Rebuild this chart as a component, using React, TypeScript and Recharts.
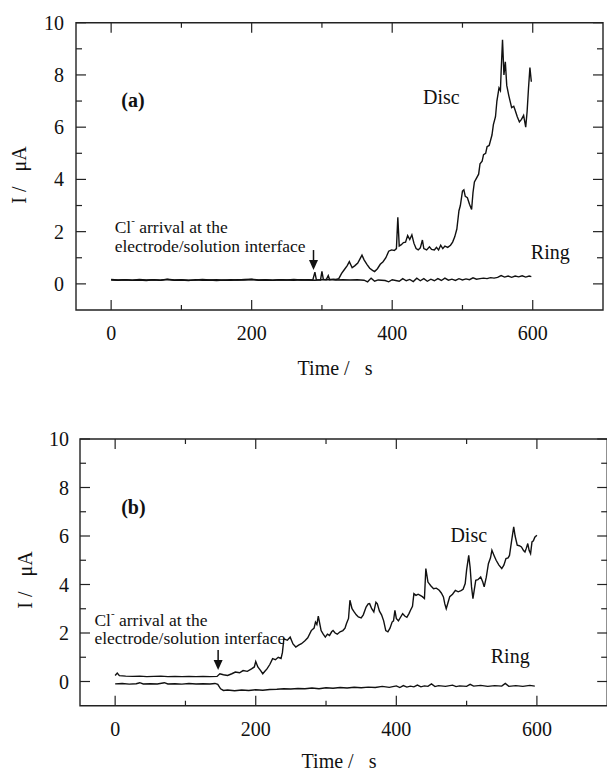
import React from "react";
import { LineChart, Line, XAxis, YAxis, ReferenceArea, ReferenceDot } from "recharts";

const xTicks = [0, 100, 200, 300, 400, 500, 600];
const yTicks = [0, 1, 2, 3, 4, 5, 6, 7, 8, 9, 10];
const xDomain: [number, number] = [-50, 700];
const yDomain: [number, number] = [-1, 10];

// (a) disc current, [time s, current µA]
const discA: [number, number][] = [
  [0, 0.17], [10, 0.15], [20, 0.16], [30, 0.14], [40, 0.17], [50, 0.15], [60, 0.16], [70, 0.14],
  [80, 0.18], [90, 0.15], [100, 0.16], [110, 0.14], [120, 0.15], [130, 0.17], [140, 0.15], [150, 0.16],
  [160, 0.14], [170, 0.16], [180, 0.15], [190, 0.17], [200, 0.18], [210, 0.15], [220, 0.16], [230, 0.14],
  [240, 0.16], [250, 0.15], [260, 0.17], [270, 0.15], [280, 0.16], [287, 0.15], [290, 0.45], [292, 0.16],
  [298, 0.15], [300, 0.48], [302, 0.17], [306, 0.16], [309, 0.32], [311, 0.16], [316, 0.18], [320, 0.17],
  [324, 0.2], [328, 0.4], [332, 0.55], [336, 0.7], [339, 0.85], [343, 0.62], [347, 0.7], [351, 0.8],
  [354, 0.95], [357, 1.1], [360, 0.92], [364, 0.75], [368, 0.6], [372, 0.52], [375, 0.47], [379, 0.58],
  [383, 0.75], [387, 0.85], [391, 1.0], [395, 1.25], [399, 1.3], [403, 1.28], [406, 1.35], [408, 2.55],
  [410, 1.45], [413, 1.5], [416, 1.58], [419, 1.6], [422, 1.85], [425, 1.7], [428, 1.88], [431, 1.55],
  [434, 1.35], [437, 1.3], [440, 1.38], [443, 1.68], [445, 1.35], [449, 1.3], [453, 1.42], [456, 1.32],
  [460, 1.3], [463, 1.4], [466, 1.3], [469, 1.48], [472, 1.35], [475, 1.45], [479, 1.4], [483, 1.48],
  [486, 1.6], [489, 1.8], [492, 2.1], [495, 2.8], [497, 3.0], [500, 3.55], [502, 3.6], [504, 3.35],
  [507, 3.3], [510, 3.05], [513, 2.85], [515, 3.5], [517, 3.9], [520, 4.05], [523, 4.2], [525, 4.6],
  [528, 4.7], [530, 4.95], [533, 5.0], [535, 5.25], [538, 5.3], [540, 5.5], [542, 5.7], [544, 6.1],
  [547, 6.4], [549, 7.0], [552, 7.5], [554, 7.4], [555, 8.1], [557, 9.35], [559, 8.0], [561, 8.5],
  [563, 7.6], [566, 7.2], [570, 6.75], [573, 6.8], [575, 6.65], [578, 6.4], [581, 6.2], [584, 6.3],
  [587, 6.45], [590, 6.0], [592, 6.6], [594, 7.5], [596, 8.28], [598, 7.74],
];

// (a) ring current
const ringA: [number, number][] = [
  [0, 0.15], [10, 0.14], [20, 0.16], [30, 0.14], [40, 0.15], [50, 0.13], [60, 0.16], [70, 0.14],
  [80, 0.17], [90, 0.14], [100, 0.15], [110, 0.13], [120, 0.16], [130, 0.14], [140, 0.15], [150, 0.13],
  [160, 0.15], [170, 0.14], [180, 0.16], [190, 0.15], [200, 0.17], [210, 0.14], [220, 0.15], [230, 0.14],
  [240, 0.16], [250, 0.15], [260, 0.14], [270, 0.16], [280, 0.15], [290, 0.14], [300, 0.16], [310, 0.17],
  [320, 0.15], [330, 0.16], [340, 0.15], [350, 0.16], [360, 0.14], [365, 0.08], [370, 0.22], [375, 0.1],
  [380, 0.15], [390, 0.13], [395, 0.08], [400, 0.16], [410, 0.1], [415, 0.2], [420, 0.12], [425, 0.17],
  [430, 0.09], [435, 0.22], [440, 0.12], [445, 0.2], [450, 0.1], [455, 0.18], [460, 0.12], [465, 0.2],
  [470, 0.13], [475, 0.22], [480, 0.14], [485, 0.18], [490, 0.13], [495, 0.2], [500, 0.15], [505, 0.19],
  [510, 0.16], [515, 0.23], [520, 0.18], [525, 0.2], [530, 0.22], [535, 0.2], [540, 0.24], [545, 0.22],
  [550, 0.25], [555, 0.32], [560, 0.26], [565, 0.3], [570, 0.25], [575, 0.3], [580, 0.27], [585, 0.31],
  [590, 0.26], [595, 0.3], [598, 0.28],
];

// (b) disc current
const discB: [number, number][] = [
  [0, 0.25], [3, 0.35], [6, 0.24], [15, 0.22], [25, 0.21], [35, 0.22], [45, 0.2], [55, 0.21],
  [65, 0.22], [75, 0.2], [85, 0.21], [95, 0.2], [105, 0.21], [115, 0.2], [125, 0.21], [135, 0.2],
  [145, 0.21], [149, 0.32], [154, 0.28], [160, 0.25], [166, 0.32], [171, 0.39], [177, 0.36], [182, 0.45],
  [188, 0.42], [194, 0.52], [198, 0.6], [200, 0.82], [203, 0.6], [207, 0.45], [210, 0.32], [213, 0.42],
  [216, 0.52], [220, 0.7], [224, 0.94], [228, 0.9], [232, 1.0], [236, 0.95], [238, 1.2], [240, 1.76],
  [245, 1.7], [249, 1.83], [253, 1.55], [257, 1.42], [261, 1.5], [265, 1.56], [270, 1.68], [274, 1.8],
  [279, 2.1], [283, 2.2], [285, 2.45], [287, 2.35], [289, 2.7], [291, 2.4], [293, 2.1], [296, 1.95],
  [299, 1.83], [302, 1.95], [305, 1.9], [308, 2.05], [310, 2.1], [313, 2.0], [316, 1.95], [320, 2.05],
  [324, 2.1], [327, 2.2], [329, 2.38], [332, 2.6], [334, 3.35], [337, 3.0], [340, 2.87], [343, 2.75],
  [346, 2.66], [350, 2.62], [353, 2.75], [357, 3.07], [360, 3.2], [362, 3.21], [365, 3.0], [368, 2.87],
  [371, 3.27], [373, 3.2], [376, 2.9], [379, 2.75], [382, 2.5], [385, 2.1], [388, 2.05], [391, 2.2],
  [394, 2.45], [396, 2.5], [398, 2.93], [400, 2.6], [403, 2.5], [406, 2.65], [409, 2.8], [412, 2.7],
  [415, 2.65], [418, 2.8], [420, 2.93], [423, 3.1], [425, 3.62], [428, 3.55], [431, 3.6], [434, 3.55],
  [437, 3.5], [440, 3.42], [442, 4.66], [445, 4.1], [449, 3.95], [453, 3.83], [457, 3.85], [461, 3.76],
  [464, 3.65], [467, 3.49], [469, 3.2], [471, 3.0], [474, 3.3], [476, 3.5], [480, 3.6], [484, 3.76],
  [488, 3.7], [492, 3.75], [495, 3.8], [498, 4.04], [500, 4.6], [503, 5.2], [505, 4.7], [507, 3.9],
  [509, 3.42], [511, 3.8], [513, 4.17], [516, 4.2], [520, 4.31], [523, 4.1], [525, 3.9], [528, 4.3],
  [531, 4.86], [534, 5.1], [536, 5.41], [539, 5.2], [542, 5.0], [546, 4.8], [550, 4.66], [553, 4.8],
  [556, 5.07], [559, 5.1], [561, 5.2], [564, 5.8], [567, 6.38], [569, 6.0], [572, 5.62], [575, 5.6],
  [578, 5.55], [581, 5.4], [583, 5.34], [585, 5.5], [587, 5.69], [589, 5.4], [591, 5.27], [593, 5.76],
  [595, 5.8], [597, 5.95], [600, 6.03],
];

// (b) ring current
const ringB: [number, number][] = [
  [0, -0.1], [10, -0.08], [20, -0.11], [30, -0.09], [35, -0.05], [40, -0.1], [50, -0.09], [60, -0.1],
  [70, -0.05], [75, -0.1], [85, -0.09], [95, -0.11], [105, -0.08], [115, -0.1], [125, -0.09], [135, -0.1],
  [142, -0.08], [146, -0.12], [150, -0.3], [154, -0.37], [160, -0.35], [170, -0.38], [180, -0.35], [190, -0.37],
  [200, -0.34], [210, -0.36], [220, -0.33], [230, -0.32], [240, -0.3], [250, -0.31], [260, -0.29], [270, -0.3],
  [280, -0.27], [290, -0.3], [300, -0.26], [310, -0.28], [320, -0.25], [330, -0.27], [340, -0.24], [350, -0.26],
  [360, -0.23], [370, -0.25], [380, -0.2], [390, -0.24], [400, -0.18], [405, -0.25], [410, -0.17], [415, -0.23],
  [420, -0.19], [425, -0.22], [430, -0.15], [435, -0.22], [440, -0.18], [445, -0.2], [450, -0.1], [455, -0.21],
  [460, -0.17], [470, -0.2], [480, -0.15], [485, -0.21], [490, -0.18], [500, -0.2], [505, -0.12], [510, -0.19],
  [520, -0.16], [530, -0.2], [540, -0.17], [550, -0.19], [555, -0.08], [560, -0.2], [570, -0.17], [580, -0.2],
  [590, -0.16], [597, -0.19],
];

const FONT = '"Liberation Serif", "Times New Roman", serif';
const INK = "#111";

type Frame = { top: number; bottom: number; left: number; right: number };
type Note = { t: number; v: number; text: string; anchor?: "start" | "middle"; bold?: boolean; size?: number; sup?: boolean };

const toRows = (pairs: [number, number][]) => pairs.map(([t, v]) => ({ t, v }));

function makeXTick(f: Frame) {
  return (props: any) => {
    const { x, payload } = props;
    const val = payload.value;
    const major = val % 200 === 0;
    const len = major ? 10 : 5;
    return (
      <g>
        <line x1={x} x2={x} y1={f.bottom} y2={f.bottom - len} stroke="#222" strokeWidth={1.2} />
        <line x1={x} x2={x} y1={f.top} y2={f.top + len} stroke="#222" strokeWidth={1.2} />
        {major && (
          <text x={x} y={f.bottom + 23} textAnchor="middle" dominantBaseline="central" fontFamily={FONT} fontSize={20} fill={INK}>
            {val}
          </text>
        )}
      </g>
    );
  };
}

function makeYTick(f: Frame, gap: number) {
  return (props: any) => {
    const { y, payload } = props;
    const val = payload.value;
    const major = val % 2 === 0;
    const len = major ? 10 : 6;
    return (
      <g>
        <line x1={f.left} x2={f.left + len} y1={y} y2={y} stroke="#222" strokeWidth={1.2} />
        <line x1={f.right} x2={f.right - len} y1={y} y2={y} stroke="#222" strokeWidth={1.2} />
        {major && (
          <text x={f.left - gap} y={y} textAnchor="end" dominantBaseline="central" fontFamily={FONT} fontSize={20} fill={INK}>
            {val}
          </text>
        )}
      </g>
    );
  };
}

function noteShape(n: Note) {
  return (p: any) => (
    <text
      x={p.cx}
      y={p.cy}
      textAnchor={n.anchor || "middle"}
      dominantBaseline="central"
      fontFamily={FONT}
      fontSize={n.size || 20}
      fontWeight={n.bold ? "bold" : "normal"}
      fill={INK}
    >
      {n.sup ? (
        <>
          <tspan>Cl</tspan>
          <tspan dy={-7} fontSize={11}>-</tspan>
          <tspan dy={7}>{n.text}</tspan>
        </>
      ) : (
        n.text
      )}
    </text>
  );
}

const arrowShape = (p: any) => (
  <g>
    <line x1={p.cx} x2={p.cx} y1={p.cy - 20} y2={p.cy - 7} stroke={INK} strokeWidth={1.5} />
    <polygon points={`${p.cx - 4.5},${p.cy - 10} ${p.cx + 4.5},${p.cy - 10} ${p.cx},${p.cy}`} fill={INK} />
  </g>
);

type PanelProps = {
  width: number;
  height: number;
  frame: Frame;
  yGap: number;
  disc: [number, number][];
  ring: [number, number][];
  notes: Note[];
  arrowAt: [number, number];
};

function Panel({ width, height, frame, yGap, disc, ring, notes, arrowAt }: PanelProps) {
  return (
    <LineChart
      width={width}
      height={height}
      margin={{ top: frame.top, right: width - frame.right, bottom: 0, left: 0 }}
    >
      <XAxis
        type="number"
        dataKey="t"
        domain={xDomain}
        ticks={xTicks}
        interval={0}
        allowDataOverflow
        height={height - frame.bottom}
        axisLine={false}
        tickLine={false}
        tick={makeXTick(frame)}
      />
      <YAxis
        type="number"
        dataKey="v"
        domain={yDomain}
        ticks={yTicks}
        interval={0}
        allowDataOverflow
        width={frame.left}
        axisLine={false}
        tickLine={false}
        tick={makeYTick(frame, yGap)}
      />
      <ReferenceArea x1={-50} x2={700} y1={-1} y2={10} fill="none" stroke="#222" strokeWidth={1.4} ifOverflow="visible" />
      <Line data={toRows(ring)} dataKey="v" type="linear" stroke={INK} strokeWidth={1.4} dot={false} isAnimationActive={false} />
      <Line data={toRows(disc)} dataKey="v" type="linear" stroke={INK} strokeWidth={1.4} dot={false} isAnimationActive={false} />
      {notes.map((n, i) => (
        <ReferenceDot key={i} x={n.t} y={n.v} r={1} ifOverflow="visible" shape={noteShape(n)} />
      ))}
      <ReferenceDot x={arrowAt[0]} y={arrowAt[1]} r={1} ifOverflow="visible" shape={arrowShape} />
    </LineChart>
  );
}

const notesA: Note[] = [
  { t: 31, v: 7.04, text: "(a)", bold: true },
  { t: 470, v: 7.16, text: "Disc" },
  { t: 625, v: 1.22, text: "Ring" },
  { t: 5, v: 2.18, text: " arrival at the", anchor: "start", size: 17.5, sup: true },
  { t: 5, v: 1.45, text: "electrode/solution interface", anchor: "start", size: 17.5 },
];

const notesB: Note[] = [
  { t: 26, v: 7.2, text: "(b)", bold: true },
  { t: 503, v: 6.04, text: "Disc" },
  { t: 562, v: 1.05, text: "Ring" },
  { t: -29.5, v: 2.54, text: " arrival at the", anchor: "start", size: 17.5, sup: true },
  { t: -29.5, v: 1.79, text: "electrode/solution interface", anchor: "start", size: 17.5 },
];

const titleStyle: React.CSSProperties = {
  position: "absolute",
  fontFamily: FONT,
  fontSize: 20,
  lineHeight: 1,
  color: INK,
  whiteSpace: "pre",
};

export default function App() {
  return (
    <div style={{ position: "absolute", left: 0, top: 0, width: 607, height: 773, overflow: "hidden", background: "#fff" }}>
      <div style={{ position: "absolute", left: 0, top: 0 }}>
        <Panel
          width={620}
          height={390}
          frame={{ top: 22.7, bottom: 310, left: 76, right: 603 }}
          yGap={12}
          disc={discA}
          ring={ringA}
          notes={notesA}
          arrowAt={[288, 0.53]}
        />
      </div>
      <div style={{ position: "absolute", left: 0, top: 390 }}>
        <Panel
          width={620}
          height={383}
          frame={{ top: 49, bottom: 315.75, left: 80, right: 607.2 }}
          yGap={11}
          disc={discB}
          ring={ringB}
          notes={notesB}
          arrowAt={[146.5, 0.47]}
        />
      </div>
      <div style={{ ...titleStyle, left: 19, top: 175, transform: "translate(-50%, -50%) rotate(-90deg)" }}>I /   μA</div>
      <div style={{ ...titleStyle, left: 335, top: 368, transform: "translate(-50%, -50%)" }}>Time /   s</div>
      <div style={{ ...titleStyle, left: 25, top: 580, transform: "translate(-50%, -50%) rotate(-90deg)" }}>I /   μA</div>
      <div style={{ ...titleStyle, left: 339, top: 761, transform: "translate(-50%, -50%)" }}>Time /   s</div>
    </div>
  );
}
